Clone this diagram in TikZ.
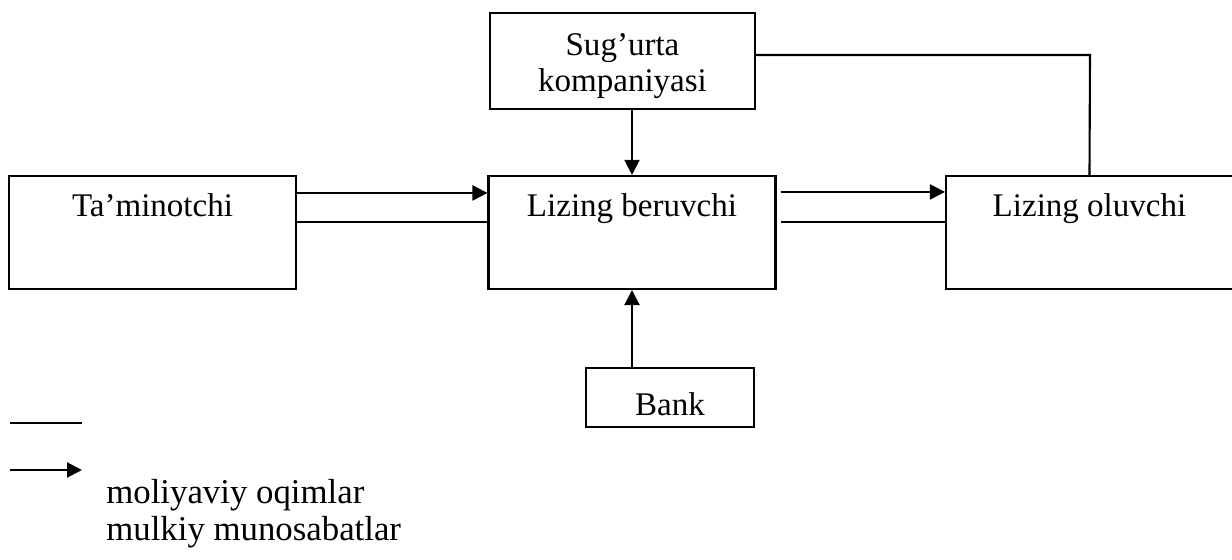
\documentclass[tikz,border=0pt]{standalone}
\usepackage{fontspec}
\setmainfont{Liberation Serif}
\usepackage{tikz}
\usetikzlibrary{arrows.meta}
\usetikzlibrary{positioning}

\tikzset{
  boxfont/.style={font=\fontsize{18.8}{20.5}\selectfont},
  box/.style={draw, line width=1.2pt, inner sep=0pt, align=center, boxfont},
  topbox/.style={box, anchor=base, minimum width=5.74cm, text height=0.82cm, text depth=1.44cm},
  flow/.style={line width=1.2pt, -{Triangle[length=0.3cm,width=0.3cm]}},
  link/.style={line width=1.2pt},
  legendtext/.style={anchor=base west, inner sep=0pt,
    font=\fontsize{19.8}{22}\selectfont}
}

\begin{document}
\begin{tikzpicture}[x=0.02cm,y=-0.02cm]
  \useasboundingbox (0,0) rectangle (1232,560);
  % main boxes
  \node[topbox] (tam) at (152.5,217) {Ta’minotchi};
  \node[topbox] (lb) at (632,217) {Lizing beruvchi};
  \node[topbox] (lo) at (1089.5,217) {Lizing oluvchi};
  \node[box, minimum width=5.3cm, minimum height=1.92cm] (sug) at (622.5,61) {};
  \node[boxfont, align=center, inner sep=0pt, anchor=north] (sugtext) at (622.5,33)
    {Sug’urta\\kompaniyasi};
  \node[box, anchor=base, minimum width=3.36cm, text height=0.96cm, text depth=0.22cm] (bank)
    at (670,416) {Bank};

  % connectors
  \draw[flow] ([yshift=-0.36cm]tam.north east) -- ([yshift=-0.36cm]lb.north west);
  \draw[link] ([yshift=-0.94cm]tam.north east) -- ([yshift=-0.94cm]lb.north west);
  \draw[flow] ([xshift=0.08cm,yshift=-0.34cm]lb.north east) -- ([yshift=-0.34cm]lo.north west);
  \draw[link] ([xshift=0.08cm,yshift=-0.94cm]lb.north east) -- ([yshift=-0.94cm]lo.north west);
  \draw[flow] (lb.north |- sug.south) -- (lb.north);
  \draw[flow] (lb.south |- bank.north) -- (lb.south);
  \coordinate (turn) at (1090,55);
  \draw[link] (sug.east |- turn) -- (turn) -- (lo.north);

  % legend
  \coordinate (la) at (10,423);
  \coordinate (lb2) at (82,423);
  \coordinate (fa) at (10,470);
  \coordinate (fb) at (82,470);
  \draw[link] (la) -- (lb2);
  \draw[flow] (fa) -- (fb);
  \node[legendtext] (moliya) at (106,504) {moliyaviy oqimlar};
  \node[legendtext] (mulk) at (106,541) {mulkiy munosabatlar};
\end{tikzpicture}
\end{document}
